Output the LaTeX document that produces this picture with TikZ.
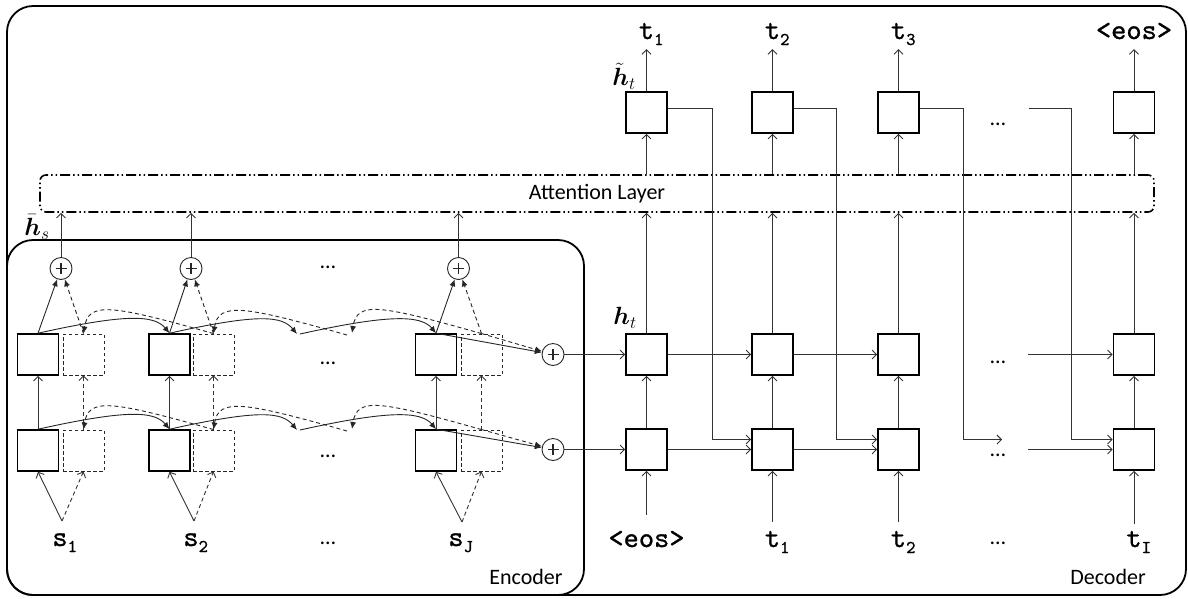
\documentclass[tikz,border=0pt]{standalone}
\usepackage{fontspec}
\usepackage{bm}
\newfontfamily\labelsans{Carlito}
\newfontfamily\tokfont{lmmono10-regular.otf}[FakeBold=0.9]
\usetikzlibrary{arrows.meta}
% token with a subscript that does not shift the token's centre
\newcommand{\withsub}[2]{#1\makebox[0pt][l]{\raisebox{-6pt}{\fontsize{18}{18}\selectfont #2}}}
\begin{document}
\begin{tikzpicture}[x=1pt,y=-1pt,
  outline/.style={draw=black, line width=1.8pt, rounded corners=26pt},
  cell/.style={draw=black, line width=1.6pt, minimum width=41pt, minimum height=41pt, inner sep=0pt},
  dcell/.style={draw=black!85, dash pattern=on 3.5pt off 2.5pt, line width=0.9pt, minimum width=41pt, minimum height=41pt, inner sep=0pt},
  adder/.style={circle, draw=black!85, line width=0.9pt, minimum size=22pt, inner sep=0pt,
    path picture={\draw[line width=1.4pt]
      ([xshift=-5.5pt]path picture bounding box.center) -- ([xshift=5.5pt]path picture bounding box.center)
      ([yshift=-5.5pt]path picture bounding box.center) -- ([yshift=5.5pt]path picture bounding box.center);}},
  conn/.style={draw=black!80, line width=0.9pt, -{Straight Barb[length=4.5pt,width=9pt]}},
  bconn/.style={conn, dash pattern=on 4pt off 3pt},
  rec/.style={draw=black!85, line width=0.9pt, -{Latex[length=7pt,width=6pt]}},
  brec/.style={rec, dash pattern=on 4pt off 3pt},
  toklab/.style={font=\tokfont\fontsize{29}{30}\selectfont, inner sep=0pt, anchor=base},
  mlab/.style={font=\fontsize{24}{26}\selectfont, inner sep=0pt},
  words/.style={font=\labelsans\fontsize{22}{24}\selectfont, inner sep=0pt},
  ell/.style={font=\labelsans\fontsize{22}{24}\selectfont, inner sep=0pt, anchor=base}
]
\useasboundingbox (0,0) rectangle (1188,598);

% frames
\draw[outline] (7,6) rectangle (1186,595);
\draw[outline] (7,240) rectangle (584,595);
\node[words] at (526,577) {Encoder};
\node[words] at (1108,577) {Decoder};

% attention layer
\node[draw=black, line width=1.6pt,
      dash pattern=on 10pt off 3pt on 1.5pt off 3pt on 1.5pt off 3pt,
      rounded corners=6pt, minimum width=1114pt, minimum height=37pt, words]
  (att) at (597,193.5) {Attention Layer};

% ---------------- encoder ----------------
\node[cell]  (eu1) at (38,354.5) {};
\node[dcell] (du1) at (83.5,354.5) {};
\node[cell]  (el1) at (38,450.5) {};
\node[dcell] (dl1) at (83.5,450.5) {};
\node[cell]  (eu2) at (169.5,354.5) {};
\node[dcell] (du2) at (213.5,354.5) {};
\node[cell]  (el2) at (169.5,450.5) {};
\node[dcell] (dl2) at (213.5,450.5) {};
\node[cell]  (euJ) at (436,354.5) {};
\node[dcell] (duJ) at (481.5,354.5) {};
\node[cell]  (elJ) at (436,450.5) {};
\node[dcell] (dlJ) at (481.5,450.5) {};

\node[adder] (p1) at (61,268.5) {};
\node[adder] (p2) at (191,268.5) {};
\node[adder] (pJ) at (458.5,268.5) {};
\node[adder] (pu) at (553,354.5) {};
\node[adder] (pl) at (553,449.5) {};

\node[ell] at (328,268) {…};
\node[ell] at (328,364) {…};
\node[ell] at (328,457) {…};
\node[ell] at (328,544) {…};

% source tokens
\coordinate (a1) at (62,521);
\coordinate (a2) at (194,521);
\coordinate (aJ) at (462,522);
\node[toklab] (s1) at (60,546) {\withsub{s}{1}};
\node[toklab] (s2) at (191,546) {\withsub{s}{2}};
\node[toklab] (sJ) at (456,546) {\withsub{s}{J}};

\foreach \k in {1,2,J}{
  \draw[conn]  (a\k) -- (el\k.south);
  \draw[bconn] (a\k) -- (dl\k.south);
  \draw[conn]  (el\k) -- (eu\k);
  \draw[bconn] (dl\k) -- (du\k);
}
\foreach \k in {1,2,J}{
  \draw[rec]  (eu\k.north) -- (p\k);
  \draw[brec] (du\k.north) -- (p\k);
  \draw[conn] (p\k) -- (p\k |- att.south);
}

% forward recurrences
\coordinate (fu1) at (297,334);  \coordinate (fu2) at (300,334);
\coordinate (fl1) at (297,430);  \coordinate (fl2) at (300,430);
\draw[rec] (eu1.north) .. controls +(90,-20) and +(-15,-18) .. (eu2.north);
\draw[rec] (eu2.north) .. controls +(90,-20) and +(-15,-18) .. (fu1);
\draw[rec] (fu2) .. controls +(90,-20) and +(-15,-18) .. (euJ.north);
\draw[rec] (el1.north) .. controls +(90,-20) and +(-15,-18) .. (el2.north);
\draw[rec] (el2.north) .. controls +(90,-20) and +(-15,-18) .. (fl1);
\draw[rec] (fl2) .. controls +(90,-20) and +(-15,-18) .. (elJ.north);

% backward recurrences
\coordinate (bu1) at (347,335);  \coordinate (bu2) at (352,333);
\coordinate (bl1) at (347,431);  \coordinate (bl2) at (352,429);
\draw[brec] (du2.north) .. controls +(-103,-29) and +(5,-32) .. (du1.north);
\draw[brec] (bu1) .. controls +(-103,-29) and +(5,-32) .. (du2.north);
\draw[brec] (duJ.north) .. controls +(-103,-29) and +(5,-32) .. (bu2);
\draw[brec] (dl2.north) .. controls +(-103,-29) and +(5,-32) .. (dl1.north);
\draw[brec] (bl1) .. controls +(-103,-29) and +(5,-32) .. (dl2.north);
\draw[brec] (dlJ.north) .. controls +(-103,-29) and +(5,-32) .. (bl2);

% final states into the adders
\draw[rec]  (euJ.north) -- (pu);
\draw[brec] (duJ.north) -- (pu);
\draw[rec]  (elJ.north) -- (pl);
\draw[brec] (dlJ.north) -- (pl);

\node[mlab] at (37,227) {$\bm{\bar{h}}_{s}$};

% ---------------- decoder ----------------
\node[cell] (T1) at (646.5,112.5) {};
\node[cell] (T2) at (772.5,112.5) {};
\node[cell] (T3) at (898.5,112.5) {};
\node[cell] (T4) at (1134,112.5) {};
\node[cell] (U1) at (646.5,354.5) {};
\node[cell] (U2) at (772.5,354.5) {};
\node[cell] (U3) at (898.5,354.5) {};
\node[cell] (U4) at (1134,354.5) {};
\node[cell] (L1) at (646.5,449.5) {};
\node[cell] (L2) at (772.5,449.5) {};
\node[cell] (L3) at (898.5,449.5) {};
\node[cell] (L4) at (1134,449.5) {};

\node[mlab] at (624,76) {$\bm{\tilde{h}}_{t}$};
\node[mlab] at (625,318) {$\bm{h}_{t}$};

\node[ell] at (998,125) {…};
\node[ell] at (998,363) {…};
\node[ell] at (998,456) {…};
\node[ell] at (998,544) {…};

% output tokens
\node[toklab] (o1) at (646.5,39) {\withsub{t}{1}};
\node[toklab] (o2) at (772.5,39) {\withsub{t}{2}};
\node[toklab] (o3) at (898.5,39) {\withsub{t}{3}};
\node[toklab] (o4) at (1134,39) {<eos>};

% input tokens
\node[toklab] (i1) at (646.5,547) {<eos>};
\node[toklab] (i2) at (772.5,547) {\withsub{t}{1}};
\node[toklab] (i3) at (898.5,547) {\withsub{t}{2}};
\node[toklab] (i4) at (1134,547) {\withsub{t}{I}};
\coordinate (b1) at (646.5,515);
\coordinate (b2) at (772.5,522);
\coordinate (b3) at (898.5,522);
\coordinate (b4) at (1134,524);

\foreach \c in {1,2,3,4}{
  \draw[conn] (b\c) -- (L\c.south);
  \draw[conn] (L\c) -- (U\c);
  \draw[conn] (U\c.north) -- (U\c |- att.south);
  \draw[conn] (T\c |- att.north) -- (T\c.south);
  \draw[conn] (T\c.north) -- ++(0,-42);
}

% recurrent links along the rows
\coordinate (hu) at (1028,354.5);
\coordinate (hl) at (1028,449.5);
\draw[conn] (pu) -- (U1);
\draw[conn] (U1) -- (U2);
\draw[conn] (U2) -- (U3);
\draw[conn] (hu) -- (U4);
\draw[conn] (pl) -- (L1);
\draw[conn] (L1) -- (L2);
\draw[conn] (L2) -- (L3);
\draw[conn] (hl) -- (L4);

% input feeding from the attentional states
\coordinate (k1) at (712,439.5);
\coordinate (k2) at (836,439.5);
\coordinate (k3) at (963,439.5);
\coordinate (k3e) at (1002,439.5);
\coordinate (k4s) at (1029,108.5);
\coordinate (k4) at (1071,439.5);
\draw[conn] ([yshift=4pt]T1.east) -| (k1) -- ([yshift=10pt]L2.west);
\draw[conn] ([yshift=4pt]T2.east) -| (k2) -- ([yshift=10pt]L3.west);
\draw[conn] ([yshift=4pt]T3.east) -| (k3) -- (k3e);
\draw[conn] (k4s) -| (k4) -- ([yshift=10pt]L4.west);
\end{tikzpicture}
\end{document}
